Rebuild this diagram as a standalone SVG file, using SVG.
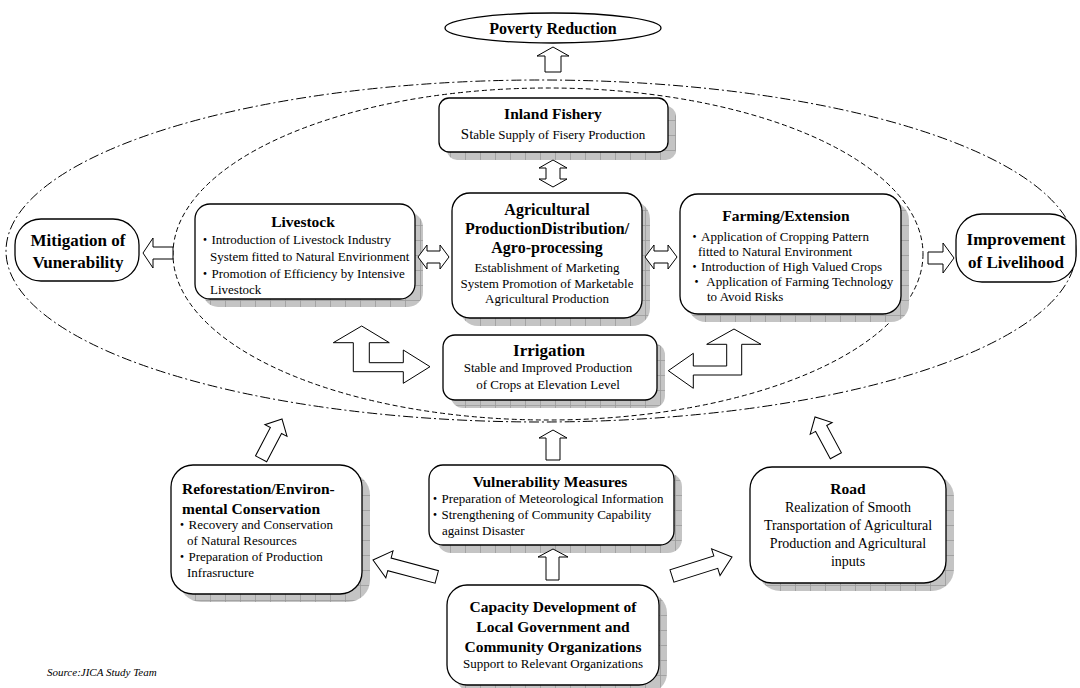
<svg xmlns="http://www.w3.org/2000/svg" width="1080" height="688" viewBox="0 0 1080 688">
<defs>
<pattern id="grid" width="15" height="15" patternUnits="userSpaceOnUse">
<rect width="15" height="15" fill="#c4c4c4"/>
<path d="M0 0.5H15M0.5 0V15" stroke="#9a9a9a" stroke-width="0.8" fill="none"/>
</pattern>
</defs>
<style>
.bx{fill:#fff;stroke:#000;stroke-width:1.3}
.sh{fill:url(#grid)}
.ar{fill:#fff;stroke:#000;stroke-width:1}
.t{font-family:"Liberation Serif","Noto Sans CJK JP",serif;fill:#000;font-size:13px}
.b{font-weight:bold;font-size:15.5px}
.c{text-anchor:middle}
.big{font-size:17px}
.outer{fill:none;stroke:#000;stroke-width:1;stroke-dasharray:10 3 2 3}
.inner{fill:none;stroke:#000;stroke-width:1;stroke-dasharray:5 3}
</style>
<rect width="1080" height="688" fill="#fff"/>

<g id="groupings">
<ellipse class="outer" cx="541" cy="251" rx="535" ry="171"/>
<ellipse class="inner" cx="548" cy="254" rx="375" ry="166"/>
</g>

<g id="poverty">
<ellipse class="bx" cx="553" cy="28" rx="108" ry="15"/>
<text class="t b c" x="553" y="34" style="font-size:16px">Poverty Reduction</text>
</g>

<g id="fishery">
<rect class="sh" x="447" y="106" width="229" height="54" rx="10"/>
<rect class="bx" x="439" y="98" width="229" height="54" rx="10"/>
<text class="t b c" x="553" y="119">Inland Fishery</text>
<text class="t c" x="553" y="139"><tspan style="font-size:15px">St</tspan>able Supply of Fisery Production</text>
</g>

<g id="agri">
<rect class="sh" x="460" y="201" width="190" height="125" rx="18"/>
<rect class="bx" x="452" y="193" width="190" height="125" rx="18"/>
<text class="t b c" x="547" y="215" style="font-size:16px">Agricultural</text>
<text class="t b c" x="547" y="234" style="font-size:16px">ProductionDistribution/</text>
<text class="t b c" x="547" y="253" style="font-size:16px">Agro-processing</text>
<text class="t c" x="547" y="272">Establishment of Marketing</text>
<text class="t c" x="547" y="288">System Promotion of Marketable</text>
<text class="t c" x="547" y="303">Agricultural Production</text>
</g>

<g id="livestock">
<rect class="sh" x="203" y="212" width="220" height="95" rx="15"/>
<rect class="bx" x="195" y="204" width="220" height="95" rx="15"/>
<text class="t b c" x="303" y="227">Livestock</text>
<text class="t" x="198.5" y="244">・Introduction of Livestock Industry</text>
<text class="t" x="210" y="261">System fitted to Natural Envirionment</text>
<text class="t" x="198.5" y="278">・Promotion of Efficiency by Intensive</text>
<text class="t" x="210" y="294">Livestock</text>
</g>

<g id="farming">
<rect class="sh" x="688" y="202" width="221" height="120" rx="18"/>
<rect class="bx" x="680" y="194" width="221" height="120" rx="18"/>
<text class="t b c" x="786" y="221">Farming/Extension</text>
<text class="t" x="688" y="241">・Application of Cropping Pattern</text>
<text class="t" x="698" y="256">fitted to Natural Environment</text>
<text class="t" x="688" y="271">・Introduction of High Valued Crops</text>
<text class="t" x="690" y="286">・ Application of Farming Technology</text>
<text class="t" x="707" y="301">to Avoid Risks</text>
</g>

<g id="irrigation">
<rect class="sh" x="451" y="343" width="214" height="65" rx="12"/>
<rect class="bx" x="443" y="335" width="214" height="65" rx="12"/>
<text class="t b c big" x="549" y="356">Irrigation</text>
<text class="t c" x="548" y="372">Stable and Improved Production</text>
<text class="t c" x="548" y="389">of Crops at Elevation Level</text>
</g>

<g id="mitigation">
<rect class="bx" x="15" y="219" width="124" height="62" rx="26"/>
<text class="t b c big" x="78" y="246">Mitigation of</text>
<text class="t b c big" x="78" y="268">Vunerability</text>
</g>

<g id="improvement">
<rect class="bx" x="956" y="214" width="120" height="68" rx="26"/>
<text class="t b c big" x="1016" y="245">Improvement</text>
<text class="t b c big" x="1016" y="268">of Livelihood</text>
</g>

<g id="vulnerability">
<rect class="sh" x="437" y="473" width="245" height="80" rx="14"/>
<rect class="bx" x="429" y="465" width="245" height="80" rx="14"/>
<text class="t b c" x="550" y="487">Vulnerability Measures</text>
<text class="t" x="428.5" y="503">・Preparation of Meteorological Information</text>
<text class="t" x="428.5" y="519">・Strengthening of Community Capability</text>
<text class="t" x="442" y="535">against Disaster</text>
</g>

<g id="reforestation">
<rect class="sh" x="179" y="473" width="191" height="129" rx="22"/>
<rect class="bx" x="171" y="465" width="191" height="129" rx="22"/>
<text class="t b" x="182" y="494">Reforestation/Environ-</text>
<text class="t b" x="182" y="514">mental Conservation</text>
<text class="t" x="175.5" y="529">・Recovery and Conservation</text>
<text class="t" x="187" y="545">of Natural Resources</text>
<text class="t" x="175.5" y="561">・Preparation of Production</text>
<text class="t" x="187" y="577">Infrasructure</text>
</g>

<g id="road">
<rect class="sh" x="758" y="475" width="196" height="116" rx="22"/>
<rect class="bx" x="750" y="467" width="196" height="116" rx="22"/>
<text class="t b c" x="848" y="494">Road</text>
<text class="t c" x="848" y="512" style="font-size:14px">Realization of Smooth</text>
<text class="t c" x="848" y="530" style="font-size:14px">Transportation of Agricultural</text>
<text class="t c" x="848" y="548" style="font-size:14px">Production and Agricultural</text>
<text class="t c" x="848" y="566" style="font-size:14px">inputs</text>
</g>

<g id="capacity">
<rect class="sh" x="455" y="593" width="212" height="100" rx="20"/>
<rect class="bx" x="447" y="585" width="212" height="100" rx="20"/>
<text class="t b c" x="553" y="612">Capacity Development of</text>
<text class="t b c" x="553" y="632">Local Government and</text>
<text class="t b c" x="553" y="652">Community Organizations</text>
<text class="t c" x="553" y="668">Support to Relevant Organizations</text>
</g>

<g id="connectors">
<polygon class="ar" points="553,47 569,56 561,56 561,72 545,72 545,56 537,56"/>
<polygon class="ar" points="553,160 567,168 560,168 560,179 567,179 553,187 539,179 546,179 546,168 539,168"/>
<polygon class="ar" points="418,257 427,245 427,251 440,251 440,245 449,257 440,269 440,263 427,263 427,269"/>
<polygon class="ar" points="645,257 654,245 654,251 668,251 668,245 677,257 668,269 668,263 654,263 654,269"/>
<polygon class="ar" points="143,253 153,238 153,247 173,247 173,259 153,259 153,268"/>
<polygon class="ar" points="928,252 943,252 943,243 954,258 943,273 943,264 928,264"/>
<polygon class="ar" points="361.7,326 389.3,342.7 369.3,342.7 369.3,362.7 403.3,362.7 403.3,350 430,366.7 403.3,383.3 403.3,371.7 353.3,371.7 353.3,342.7 333.3,342.7"/>
<polygon class="ar" points="734,329 761,344.3 741.7,344.3 741.7,375 693.3,375 693.3,388.3 668.3,370.7 693.3,353.3 693.3,366 726.7,366 726.7,344.3 706.7,344.3"/>
<polygon class="ar" points="553,430 567,438 560,438 560,460 546,460 546,438 539,438"/>
<polygon class="ar" points="553,549 568,557 559,557 559,580 546,580 546,557 538,557"/>
<polygon class="ar" transform="translate(373,560) rotate(194.9)" points="0,0 -17,-14 -17,-6.5 -66,-6.5 -66,6.5 -17,6.5 -17,14"/>
<polygon class="ar" transform="translate(732,557) rotate(-17.6)" points="0,0 -17,-14 -17,-6.5 -63,-6.5 -63,6.5 -17,6.5 -17,14"/>
<polygon class="ar" transform="translate(282,419) rotate(-62.3)" points="0,0 -13,-12.5 -13,-6.3 -45,-6.3 -45,6.3 -13,6.3 -13,12.5"/>
<polygon class="ar" transform="translate(815,417) rotate(-118.3)" points="0,0 -13,-12.5 -13,-6.3 -44,-6.3 -44,6.3 -13,6.3 -13,12.5"/>
</g>

<text id="source" class="t" x="47" y="676" style="font-style:italic;font-size:11px">Source:JICA Study Team</text>
</svg>
